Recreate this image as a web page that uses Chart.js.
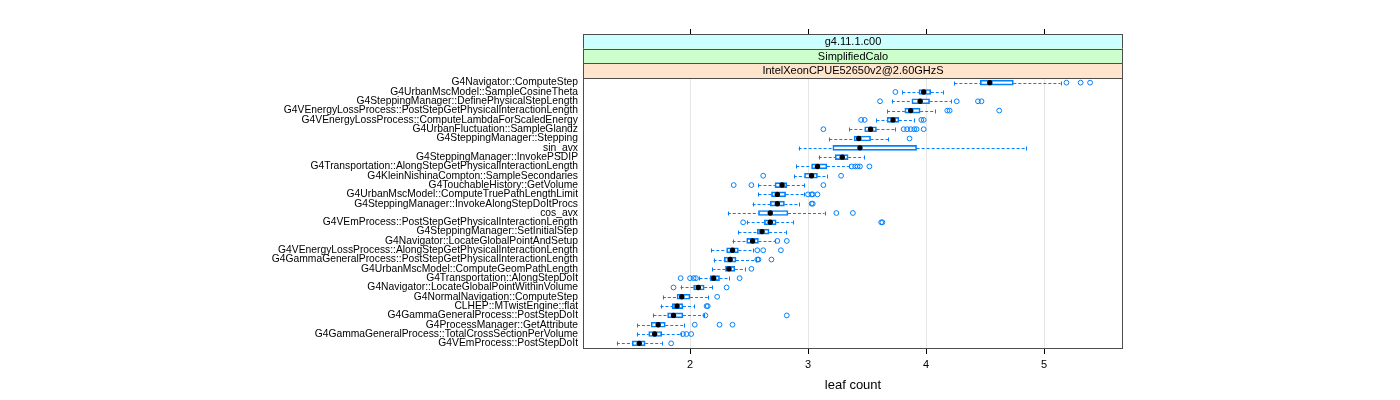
<!DOCTYPE html>
<html>
<head>
<meta charset="utf-8">
<title>leaf count</title>
<script src="https://cdn.jsdelivr.net/npm/chart.js@4.4.1/dist/chart.umd.min.js"></script>
<style>
  html, body { margin: 0; padding: 0; background: #fff; }
  #wrap { width: 1400px; height: 400px; }
</style>
</head>
<body>
<div id="wrap"><canvas id="bwChart" width="1400" height="400"></canvas></div>
<script>
// Data
var categories = [
    'G4Navigator::ComputeStep',
    'G4UrbanMscModel::SampleCosineTheta',
    'G4SteppingManager::DefinePhysicalStepLength',
    'G4VEnergyLossProcess::PostStepGetPhysicalInteractionLength',
    'G4VEnergyLossProcess::ComputeLambdaForScaledEnergy',
    'G4UrbanFluctuation::SampleGlandz',
    'G4SteppingManager::Stepping',
    'sin_avx',
    'G4SteppingManager::InvokePSDIP',
    'G4Transportation::AlongStepGetPhysicalInteractionLength',
    'G4KleinNishinaCompton::SampleSecondaries',
    'G4TouchableHistory::GetVolume',
    'G4UrbanMscModel::ComputeTruePathLengthLimit',
    'G4SteppingManager::InvokeAlongStepDoItProcs',
    'cos_avx',
    'G4VEmProcess::PostStepGetPhysicalInteractionLength',
    'G4SteppingManager::SetInitialStep',
    'G4Navigator::LocateGlobalPointAndSetup',
    'G4VEnergyLossProcess::AlongStepGetPhysicalInteractionLength',
    'G4GammaGeneralProcess::PostStepGetPhysicalInteractionLength',
    'G4UrbanMscModel::ComputeGeomPathLength',
    'G4Transportation::AlongStepDoIt',
    'G4Navigator::LocateGlobalPointWithinVolume',
    'G4NormalNavigation::ComputeStep',
    'CLHEP::MTwistEngine::flat',
    'G4GammaGeneralProcess::PostStepDoIt',
    'G4ProcessManager::GetAttribute',
    'G4GammaGeneralProcess::TotalCrossSectionPerVolume',
    'G4VEmProcess::PostStepDoIt'
];

var whiskerLow  = [4.24, 3.80, 3.71, 3.67, 3.58, 3.35, 3.18, 2.92, 3.09, 2.90, 2.88, 2.58, 2.58, 2.53, 2.32, 2.48, 2.41, 2.36, 2.18, 2.20, 2.19, 2.08, 1.92, 1.77, 1.75, 1.69, 1.55, 1.55, 1.38];
var q1          = [4.46, 3.94, 3.88, 3.82, 3.67, 3.48, 3.39, 3.21, 3.23, 3.03, 2.97, 2.72, 2.69, 2.68, 2.58, 2.63, 2.57, 2.48, 2.31, 2.29, 2.30, 2.17, 2.03, 1.89, 1.85, 1.81, 1.67, 1.65, 1.51];
var median      = [4.54, 3.98, 3.95, 3.87, 3.72, 3.53, 3.43, 3.44, 3.29, 3.08, 3.03, 2.78, 2.74, 2.74, 2.68, 2.68, 2.61, 2.53, 2.36, 2.34, 2.33, 2.20, 2.07, 1.93, 1.89, 1.86, 1.73, 1.70, 1.57];
var q3          = [4.74, 4.04, 4.03, 3.95, 3.77, 3.58, 3.53, 3.92, 3.34, 3.16, 3.08, 2.82, 2.81, 2.80, 2.83, 2.73, 2.67, 2.58, 2.41, 2.39, 2.38, 2.25, 2.12, 2.00, 1.94, 1.94, 1.79, 1.76, 1.62];
var whiskerHigh = [5.14, 4.14, 4.21, 4.08, 3.90, 3.74, 3.68, 4.85, 3.47, 3.35, 3.16, 2.97, 2.97, 2.92, 3.14, 2.87, 2.81, 2.72, 2.53, 2.56, 2.47, 2.33, 2.19, 2.15, 2.03, 2.12, 1.95, 1.92, 1.76];
var outliers = [
    [5.19, 5.31, 5.39],
    [3.74],
    [3.61, 4.26, 4.44, 4.47],
    [4.18, 4.20, 4.62],
    [3.45, 3.48, 3.96, 3.98],
    [3.13, 3.81, 3.84, 3.87, 3.90, 3.92, 3.98],
    [3.86],
    [],
    [],
    [3.37, 3.40, 3.42, 3.44, 3.52],
    [2.62, 3.28],
    [2.37, 2.52, 3.13],
    [3.00, 3.03, 3.04, 3.08],
    [3.03, 3.04],
    [3.24, 3.38],
    [2.45, 3.62, 3.63],
    [],
    [2.74, 2.82],
    [2.57, 2.62, 2.77],
    [2.57, 2.58, 2.69],
    [2.52],
    [1.92, 2.00, 2.03, 2.05, 2.42],
    [1.86, 2.31],
    [2.23],
    [2.14, 2.15],
    [2.13, 2.82],
    [2.04, 2.25, 2.36],
    [1.94, 1.97, 2.01],
    [1.84]
];

var xTicks = [2, 3, 4, 5];
var xRange = [1.093, 5.669];
var stripLabels = ['g4.11.1.c00', 'SimplifiedCalo', 'IntelXeonCPUE52650v2@2.60GHzS'];
var stripColors = ['#ccffff', '#ccffcc', '#ffe5cc'];
var xTitle = 'leaf count';

var boxBlue = '#0080ff';
var fontName = '"Liberation Sans", Arial, sans-serif';

// Build points for medians and outliers
var medianPoints = median.map(function (v, i) {
    return { x: v, y: categories[i] };
});
var outlierPoints = [];
outliers.forEach(function (list, i) {
    list.forEach(function (v) {
        outlierPoints.push({ x: v, y: categories[i] });
    });
});

// Whiskers (dashed) with small end caps
var whiskerPlugin = {
    id: 'whiskers',
    beforeDatasetsDraw: function (chart) {
        var ctx = chart.ctx, xs = chart.scales.x, ys = chart.scales.y;
        ctx.save();
        ctx.strokeStyle = boxBlue;
        ctx.lineWidth = 1;
        categories.forEach(function (c, i) {
            var y = Math.round(ys.getPixelForValue(i)) + 0.5;
            var lo = xs.getPixelForValue(whiskerLow[i]);
            var a = xs.getPixelForValue(q1[i]);
            var b = xs.getPixelForValue(q3[i]);
            var hi = xs.getPixelForValue(whiskerHigh[i]);
            ctx.setLineDash([3, 2]);
            ctx.beginPath();
            ctx.moveTo(lo, y); ctx.lineTo(a, y);
            ctx.moveTo(b, y); ctx.lineTo(hi, y);
            ctx.stroke();
            ctx.setLineDash([]);
            ctx.beginPath();
            ctx.moveTo(Math.round(lo) + 0.5, y - 2); ctx.lineTo(Math.round(lo) + 0.5, y + 2);
            ctx.moveTo(Math.round(hi) + 0.5, y - 2); ctx.lineTo(Math.round(hi) + 0.5, y + 2);
            ctx.stroke();
        });
        ctx.restore();
    }
};

// Strips on top, top tick marks and panel border
var stripPlugin = {
    id: 'strips',
    afterDraw: function (chart) {
        var ctx = chart.ctx, area = chart.chartArea, xs = chart.scales.x;
        var stripTop = 34;
        var h = (area.top - stripTop) / stripLabels.length;
        var w = area.right - area.left;
        ctx.save();
        stripLabels.forEach(function (txt, k) {
            var top = stripTop + k * h;
            ctx.fillStyle = stripColors[k];
            ctx.fillRect(area.left, top, w, h);
            ctx.strokeStyle = '#4d4d4d';
            ctx.lineWidth = 1;
            ctx.strokeRect(Math.round(area.left) + 0.5, Math.round(top) + 0.5, Math.round(w) - 1, Math.round(h));
            ctx.fillStyle = '#000';
            ctx.font = '11px ' + fontName;
            ctx.textAlign = 'center';
            ctx.textBaseline = 'middle';
            ctx.fillText(txt, area.left + w / 2, top + h / 2 + 0.5);
        });

        ctx.strokeStyle = '#000';
        ctx.beginPath();
        xTicks.forEach(function (v) {
            var px = Math.round(xs.getPixelForValue(v)) + 0.5;
            ctx.moveTo(px, stripTop - 5);
            ctx.lineTo(px, stripTop);
        });
        ctx.stroke();

        ctx.strokeStyle = '#4d4d4d';
        ctx.strokeRect(Math.round(area.left) + 0.5, Math.round(area.top) + 0.5,
            Math.round(w) - 1, Math.round(area.bottom - area.top));
        ctx.restore();
    }
};

var ctx = document.getElementById('bwChart').getContext('2d');
var bwChart = new Chart(ctx, {
    type: 'bar',
    data: {
        labels: categories,
        datasets: [{
            label: 'box',
            data: q1.map(function (v, i) { return [v, q3[i]]; }),
            backgroundColor: 'rgba(255,255,255,0)',
            borderColor: boxBlue,
            borderWidth: 1,
            borderSkipped: false,
            barThickness: 5,
            order: 3
        }, {
            type: 'line',
            label: 'median',
            data: medianPoints,
            showLine: false,
            pointRadius: 2.7,
            pointBackgroundColor: '#000',
            pointBorderColor: '#000',
            pointBorderWidth: 0,
            order: 1
        }, {
            type: 'line',
            label: 'outliers',
            data: outlierPoints,
            showLine: false,
            pointRadius: 2.4,
            pointBackgroundColor: 'rgba(255,255,255,0)',
            pointBorderColor: boxBlue,
            pointBorderWidth: 1,
            order: 2
        }]
    },
    options: {
        indexAxis: 'y',
        responsive: false,
        animation: false,
        devicePixelRatio: 1,
        layout: {
            padding: { top: 78, right: 277, bottom: 0, left: 0 }
        },
        plugins: {
            legend: { display: false },
            tooltip: { enabled: false }
        },
        scales: {
            x: {
                type: 'linear',
                position: 'bottom',
                min: xRange[0],
                max: xRange[1],
                afterBuildTicks: function (scale) {
                    scale.ticks = xTicks.map(function (v) { return { value: v }; });
                },
                afterFit: function (scale) {
                    scale.height = 52;
                },
                grid: {
                    color: '#e6e6e6',
                    tickColor: '#000',
                    tickLength: 6,
                    drawTicks: true
                },
                border: { display: false },
                ticks: {
                    color: '#000',
                    padding: 4,
                    maxRotation: 0,
                    font: { family: fontName, size: 11 }
                },
                title: {
                    display: true,
                    text: xTitle,
                    color: '#000',
                    font: { family: fontName, size: 13 },
                    padding: { top: 0, bottom: 7 }
                }
            },
            y: {
                type: 'category',
                afterFit: function (scale) {
                    scale.width = 583;
                },
                grid: { display: false, drawTicks: false },
                border: { display: false },
                ticks: {
                    color: '#000',
                    padding: 5,
                    autoSkip: false,
                    font: { family: fontName, size: 10.3 }
                }
            }
        }
    },
    plugins: [whiskerPlugin, stripPlugin]
});
</script>
</body>
</html>
